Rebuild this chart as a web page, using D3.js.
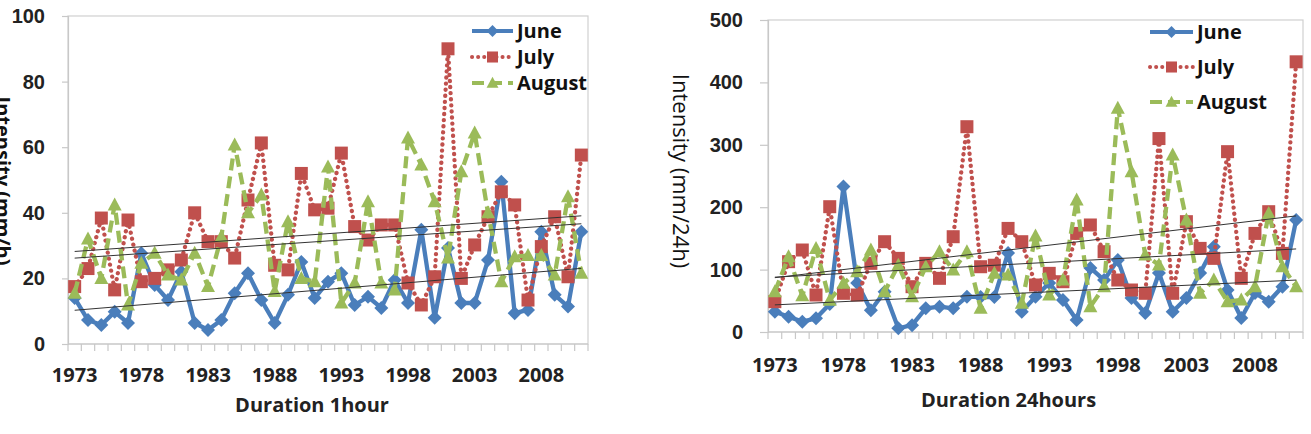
<!DOCTYPE html>
<html>
<head>
<meta charset="utf-8">
<script src="https://cdn.jsdelivr.net/npm/d3@7"></script>
<style>
  body { margin: 0; background: #fff; }
  svg { display: block; font-family: "Open Sans", "Noto Sans", sans-serif; }
</style>
</head>
<body>
<div id="chart"></div>
<script>
var years = [1973, 1974, 1975, 1976, 1977, 1978, 1979, 1980, 1981, 1982,
  1983, 1984, 1985, 1986, 1987, 1988, 1989, 1990, 1991, 1992,
  1993, 1994, 1995, 1996, 1997, 1998, 1999, 2000, 2001, 2002,
  2003, 2004, 2005, 2006, 2007, 2008, 2009, 2010, 2011];
var year_labels = [1973, 1978, 1983, 1988, 1993, 1998, 2003, 2008];
var series_names = ['June', 'July', 'August'];

// duration 1 hour (mm/h)
var june_1h = [14, 7.3, 5.8, 9.8, 6.4, 27.7, 18, 13.4, 22, 6.4, 4.3, 7.3, 15.5, 21.6, 13.4, 6.4, 15, 25, 14, 19,
  21.6, 11.9, 14.4, 11, 19.5, 12.5, 34.8, 8, 29.3, 12.5, 12.5, 25.6, 49.5, 9.4, 10.4, 34.2, 15, 11.4, 34.2];
var july_1h = [17.5, 23, 38.4, 16.5, 37.8, 19, 20, 22.6, 25.6, 40, 31.2, 31.2, 26.2, 43.9, 61.3, 24, 22.6, 52, 40.9, 41.4,
  58.2, 35.8, 31.7, 36.3, 36.3, 18.6, 11.9, 20.5, 90, 20, 30.2, 38.8, 46.4, 42.4, 13.4, 29.7, 38.8, 20.5, 57.6];
var august_1h = [15.5, 32, 20, 42.4, 11.9, 24.6, 27.7, 21, 19.5, 27.7, 17.5, 32.7, 60.7, 40, 45.4, 16, 37.3, 20, 19, 54,
  12.5, 18.6, 43.4, 18.6, 16.5, 62.8, 54.6, 43.4, 26.2, 52.5, 64.3, 40, 19, 26.6, 27, 27, 21, 44.9, 21.6];
var ticks_1h = [0, 20, 40, 60, 80, 100];

// duration 24 hours (mm/24h)
var june_24h = [32.6, 24.6, 16.6, 21.9, 45, 233, 78.5, 35, 64.6, 6, 11, 38, 40.6, 38, 56.6, 56, 56, 126.6, 32.6, 56.6,
  78.5, 51.3, 19.2, 102.6, 83.3, 115.4, 54.5, 30.4, 94.5, 32.6, 54.5, 94.5, 136.8, 67.3, 22.4, 62.5, 48.6, 72.6, 179.5];
var july_24h = [48.6, 112.7, 131.4, 59.3, 200.8, 62, 59.3, 110, 144.7, 118, 72.6, 110, 86, 152.7, 329, 104.6, 107, 166, 144.7, 75.3,
  94, 80.6, 158, 171.5, 128.7, 83.3, 67.3, 62, 310, 62, 176.8, 134, 118, 289, 86, 158, 192.8, 126, 433];
var august_24h = [64.6, 120.7, 58, 134, 51, 78, 96.6, 131.4, 64.6, 107, 56.6, 104.6, 128.7, 99.4, 128.7, 38, 94, 91.3, 46, 154,
  59.3, 83.3, 211.5, 40.6, 72.6, 358.5, 257, 123.4, 107.4, 283.6, 179.5, 62, 83.3, 48.6, 51.3, 72.6, 190, 104.6, 72.6];
var ticks_24h = [0, 100, 200, 300, 400, 500];

var styles = [
  { colour: '#4a7ebb', dash: null, cap: 'butt', symbol: 'diamond' },
  { colour: '#c0504d', dash: '0.1 6', cap: 'round', symbol: 'square' },
  { colour: '#9bbb59', dash: '12 6', cap: 'butt', symbol: 'triangle' }
];

var svg = d3.select('#chart').append('svg')
  .attr('width', 1311)
  .attr('height', 434);

function marker_path(kind) {
  if (kind === 'diamond') return 'M0,-7L7,0L0,7L-7,0Z';
  if (kind === 'square') return 'M-6.5,-6.5H6.5V6.5H-6.5Z';
  return 'M0,-7.5L7,5.5L-7,5.5Z';
}

function fit_line(values) {
  // least squares on the year index
  var n = values.length;
  var mx = (n - 1) / 2;
  var my = d3.mean(values);
  var sxy = 0, sxx = 0;
  values.forEach(function(v, i) { sxy += (i - mx) * (v - my); sxx += (i - mx) * (i - mx); });
  var b = sxy / sxx;
  return [my - b * mx, my - b * mx + b * (n - 1)];
}

function draw_panel(cfg) {
  var x = d3.scaleBand().domain(years).range([cfg.left, cfg.right]);
  var y = d3.scaleLinear().domain([0, cfg.y_ticks[cfg.y_ticks.length - 1]]).range([cfg.bottom, cfg.top]);
  var g = svg.append('g');

  // plot area frame
  g.append('rect')
    .attr('x', cfg.left).attr('y', cfg.top)
    .attr('width', cfg.right - cfg.left).attr('height', cfg.bottom - cfg.top)
    .attr('fill', 'none').attr('stroke', '#d0d0d0').attr('stroke-width', 1.2);

  // y axis
  var ya = g.append('g')
    .attr('transform', 'translate(' + cfg.left + ',0)')
    .call(d3.axisLeft(y).tickValues(cfg.y_ticks).tickSize(cfg.y_tick_len).tickPadding(cfg.y_pad));
  ya.select('.domain').attr('stroke', '#c8c8c8').attr('stroke-width', 1.2);
  ya.selectAll('.tick line').attr('stroke', '#c8c8c8').attr('stroke-width', 1.2);
  ya.selectAll('text').attr('font-size', 20).attr('font-weight', 'bold').attr('fill', '#222');

  // x axis: tick marks at category borders, labels every 5 years
  var xa = g.append('g').attr('transform', 'translate(0,' + cfg.bottom + ')');
  xa.append('line')
    .attr('x1', cfg.left).attr('x2', cfg.right)
    .attr('stroke', '#c8c8c8').attr('stroke-width', 1.2);
  xa.selectAll('line.tk')
    .data(years.concat(['end']))
    .join('line')
    .attr('class', 'tk')
    .attr('x1', function(d) { return d === 'end' ? cfg.right : x(d); })
    .attr('x2', function(d) { return d === 'end' ? cfg.right : x(d); })
    .attr('y1', 0).attr('y2', 7)
    .attr('stroke', '#c8c8c8').attr('stroke-width', 1.2);
  xa.selectAll('text')
    .data(year_labels)
    .join('text')
    .attr('x', function(d) { return x(d) + x.bandwidth() / 2; })
    .attr('y', cfg.x_label_dy)
    .attr('text-anchor', 'middle')
    .attr('font-size', 20).attr('font-weight', 'bold').attr('fill', '#222')
    .text(function(d) { return d; });

  // axis titles
  g.append('text')
    .attr('x', (cfg.left + cfg.right) / 2 + cfg.x_title_dx)
    .attr('y', cfg.x_title_y)
    .attr('text-anchor', 'middle')
    .attr('font-size', 20).attr('font-weight', 'bold').attr('fill', '#222')
    .text(cfg.x_title);
  g.append('text')
    .attr('transform', 'translate(' + cfg.y_title_x + ',' + cfg.y_title_y + ') rotate(90)')
    .attr('text-anchor', 'middle')
    .attr('font-size', cfg.y_title_size).attr('font-weight', cfg.y_title_weight).attr('fill', '#111')
    .text(cfg.y_title);

  var line = d3.line()
    .x(function(d, i) { return x(years[i]) + x.bandwidth() / 2; })
    .y(function(d) { return y(d); });

  cfg.series.forEach(function(values, k) {
    var st = styles[k];
    g.append('path')
      .datum(values)
      .attr('d', line)
      .attr('fill', 'none')
      .attr('stroke', st.colour)
      .attr('stroke-width', 4.3)
      .attr('stroke-linecap', st.cap)
      .attr('stroke-linejoin', 'round')
      .attr('stroke-dasharray', st.dash);
    g.selectAll('path.m' + k)
      .data(values)
      .join('path')
      .attr('class', 'm' + k)
      .attr('transform', function(d, i) { return 'translate(' + (x(years[i]) + x.bandwidth() / 2) + ',' + y(d) + ')'; })
      .attr('d', marker_path(st.symbol))
      .attr('fill', st.colour);
  });

  // linear trend lines
  cfg.series.forEach(function(values) {
    var ends = fit_line(values);
    g.append('line')
      .attr('x1', x(years[0]) + x.bandwidth() / 2)
      .attr('x2', x(years[years.length - 1]) + x.bandwidth() / 2)
      .attr('y1', y(ends[0]))
      .attr('y2', y(ends[1]))
      .attr('stroke', '#333')
      .attr('stroke-width', 1);
  });

  // legend
  var lg = g.append('g')
    .selectAll('g')
    .data(series_names)
    .join('g')
    .attr('transform', function(d, i) { return 'translate(' + cfg.legend_x + ',' + (cfg.legend_y + i * cfg.legend_step) + ')'; });
  lg.append('line')
    .attr('x1', 0).attr('x2', cfg.legend_len)
    .attr('stroke', function(d, i) { return styles[i].colour; })
    .attr('stroke-width', 4)
    .attr('stroke-linecap', function(d, i) { return styles[i].cap; })
    .attr('stroke-dasharray', function(d, i) { return styles[i].dash; });
  lg.append('path')
    .attr('transform', 'translate(' + (cfg.legend_len / 2) + ',0) scale(0.85)')
    .attr('d', function(d, i) { return marker_path(styles[i].symbol); })
    .attr('fill', function(d, i) { return styles[i].colour; });
  lg.append('text')
    .attr('x', cfg.legend_len + 4)
    .attr('dy', '0.35em')
    .attr('font-size', cfg.legend_font)
    .attr('font-weight', 'bold')
    .attr('fill', '#111')
    .text(function(d) { return d; });
}

draw_panel({
  left: 68, right: 588, top: 16, bottom: 344,
  y_ticks: ticks_1h, y_tick_len: 6, y_pad: 17,
  x_label_dy: 38, x_title: 'Duration 1hour', x_title_dx: -16, x_title_y: 412,
  y_title: 'Intensity (mm/h)', y_title_x: -4, y_title_y: 181, y_title_weight: 'bold', y_title_size: 20,
  series: [june_1h, july_1h, august_1h],
  legend_x: 472, legend_y: 31, legend_step: 26, legend_len: 41, legend_font: 20
});

draw_panel({
  left: 768, right: 1303, top: 20, bottom: 332,
  y_ticks: ticks_24h, y_tick_len: 8, y_pad: 17,
  x_label_dy: 40, x_title: 'Duration 24hours', x_title_dx: -27, x_title_y: 407,
  y_title: 'Intensity (mm/24h)', y_title_x: 673, y_title_y: 171, y_title_weight: 'normal', y_title_size: 22,
  series: [june_24h, july_24h, august_24h],
  legend_x: 1150, legend_y: 32, legend_step: 35, legend_len: 43, legend_font: 20
});
</script>
</body>
</html>
